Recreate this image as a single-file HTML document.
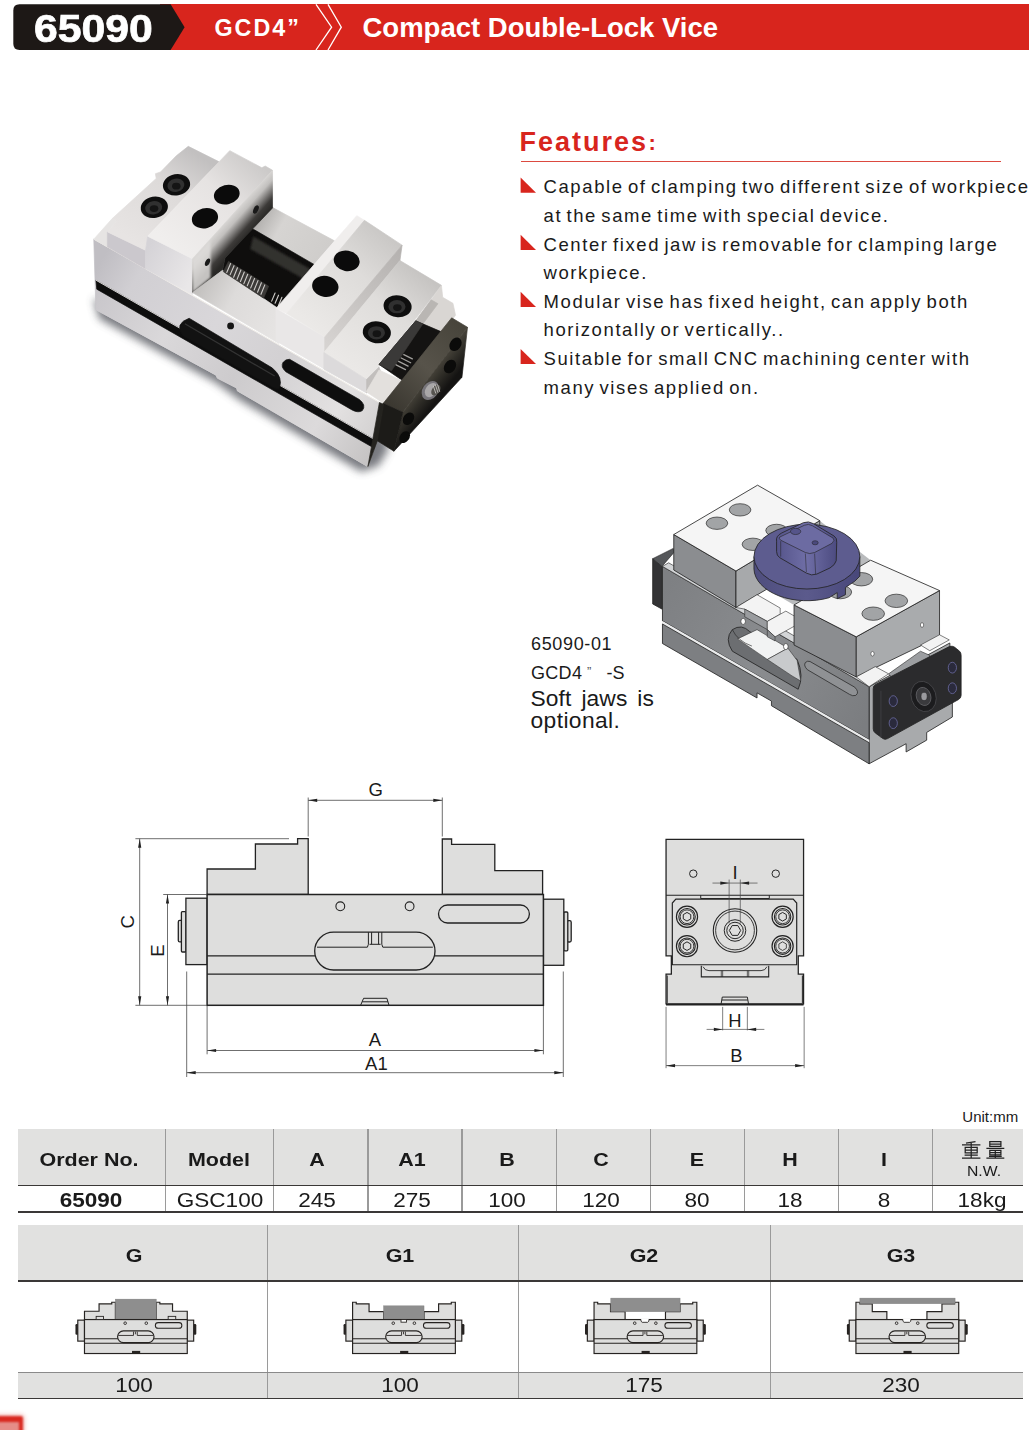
<!DOCTYPE html>
<html>
<head>
<meta charset="utf-8">
<title>65090 GCD4 Compact Double-Lock Vice</title>
<style>
html,body{margin:0;padding:0;background:#fff;}
body{width:1029px;height:1430px;position:relative;overflow:hidden;font-family:"Liberation Sans",sans-serif;color:#1a1a1a;}
.abs{position:absolute;}
svg{position:absolute;overflow:visible;}
.t{position:absolute;white-space:nowrap;line-height:1;}
/* header */
#hdr-red{left:160px;top:4px;width:869px;height:46px;background:#d8251d;}
#hdr-blk{left:0;top:0;}
.h1{color:#fff;font-weight:bold;}
/* features */
.feat{font-size:18.5px;letter-spacing:1.6px;word-spacing:-2.4px;color:#1a1a1a;}
/* tables */
.cell{position:absolute;text-align:center;white-space:nowrap;line-height:1;transform:scaleX(1.08);}
.th{font-weight:bold;font-size:19px;color:#1a1a1a;transform:scaleX(1.13);}
.td{font-size:19.6px;color:#1a1a1a;transform:scaleX(1.15);}
</style>
</head>
<body>

<!-- ===== HEADER ===== -->
<div class="abs" id="hdr-red"></div>
<svg id="hdr-blk" width="400" height="60" viewBox="0 0 400 60">
  <path d="M19.5 4.3 H170.6 L184.6 27.2 L170.6 50 H19.5 Q13.3 50 13.3 43.8 V10.5 Q13.3 4.3 19.5 4.3 Z" fill="#1d1816"/>
  <path d="M316 4.3 L331.6 27.2 L316 50" fill="none" stroke="#fff" stroke-width="1.3"/>
  <path d="M328 4.3 L341.3 27.2 L328 50" fill="none" stroke="#fff" stroke-width="1.3"/>
</svg>
<div class="t h1" id="h-num" style="left:33.5px;top:10px;font-size:38px;transform:scaleX(1.125);transform-origin:0 0;-webkit-text-stroke:0.7px #fff;">65090</div>
<div class="t h1" id="h-mod" style="left:214.5px;top:17px;font-size:23.3px;letter-spacing:2px;">GCD4”</div>
<div class="t h1" id="h-ttl" style="left:362.5px;top:13.5px;font-size:27.5px;">Compact Double-Lock Vice</div>

<!-- ===== FEATURES ===== -->
<div class="t" id="f-ttl" style="left:519.5px;top:128.5px;font-size:27px;font-weight:bold;color:#d8251d;letter-spacing:2px;">Features</div>
<div class="t" id="f-col" style="left:648.5px;top:131.5px;font-size:22px;font-weight:bold;color:#d8251d;">:</div>
<div class="abs" style="left:520.5px;top:160.5px;width:480.5px;height:1.5px;background:#dc4a40;"></div>
<svg id="f-tri" style="left:0;top:0;" width="1029" height="420" viewBox="0 0 1029 420">
  <g fill="#d8251d">
    <path d="M520.6 177.6 V192.8 H536 Z"/>
    <path d="M520.6 234.7 V249.9 H536 Z"/>
    <path d="M520.6 291.8 V307.0 H536 Z"/>
    <path d="M520.6 348.9 V364.1 H536 Z"/>
  </g>
</svg>
<div class="t feat" id="fl1" style="left:543.5px;top:178.2px;">Capable of clamping two different size of workpiece</div>
<div class="t feat" id="fl2" style="left:543.5px;top:206.8px;">at the same time with special device.</div>
<div class="t feat" id="fl3" style="left:543.5px;top:235.5px;">Center fixed jaw is removable for clamping large</div>
<div class="t feat" id="fl4" style="left:543.5px;top:264.1px;">workpiece.</div>
<div class="t feat" id="fl5" style="left:543.5px;top:292.8px;">Modular vise has fixed height, can apply both</div>
<div class="t feat" id="fl6" style="left:543.5px;top:321.4px;">horizontally or vertically..</div>
<div class="t feat" id="fl7" style="left:543.5px;top:350.1px;">Suitable for small CNC machining center with</div>
<div class="t feat" id="fl8" style="left:543.5px;top:378.8px;">many vises applied on.</div>

<!-- ===== PHOTO ===== -->
<!--PHOTO_START-->
<svg id="photo" style="left:60px;top:110px;" width="440" height="390" viewBox="0 0 1029 912">
 <defs>
  <filter id="blur8" x="-20%" y="-20%" width="140%" height="140%"><feGaussianBlur stdDeviation="10"/></filter>
  <filter id="blur2" x="-20%" y="-20%" width="140%" height="140%"><feGaussianBlur stdDeviation="2"/></filter>
  <filter id="blur4" x="-30%" y="-30%" width="160%" height="160%"><feGaussianBlur stdDeviation="5"/></filter>
  <linearGradient id="gSide" gradientUnits="userSpaceOnUse" x1="80" y1="380" x2="747" y2="760">
   <stop offset="0" stop-color="#c0bec3"/><stop offset="0.12" stop-color="#d1cfd3"/><stop offset="0.4" stop-color="#d9d7da"/><stop offset="0.62" stop-color="#d3d1d3"/><stop offset="0.85" stop-color="#e3e1e1"/><stop offset="1" stop-color="#d2d0d0"/>
  </linearGradient>
  <linearGradient id="gSide2" gradientUnits="userSpaceOnUse" x1="80" y1="440" x2="730" y2="810">
   <stop offset="0" stop-color="#c9c7cb"/><stop offset="0.25" stop-color="#dad8da"/><stop offset="0.5" stop-color="#cdcbcd"/><stop offset="0.8" stop-color="#dcdadb"/><stop offset="1" stop-color="#c5c3c3"/>
  </linearGradient>
  <linearGradient id="gInner" gradientUnits="userSpaceOnUse" x1="400" y1="245" x2="446" y2="286">
   <stop offset="0" stop-color="#dad8d6"/><stop offset="0.28" stop-color="#c2c0be"/><stop offset="0.5" stop-color="#858381"/><stop offset="0.75" stop-color="#3d3b39"/><stop offset="1" stop-color="#292826"/>
  </linearGradient>
  <linearGradient id="gBack" gradientUnits="userSpaceOnUse" x1="470" y1="250" x2="620" y2="335">
   <stop offset="0" stop-color="#b3b1af"/><stop offset="0.3" stop-color="#d6d4d2"/><stop offset="1" stop-color="#cfcdcb"/>
  </linearGradient>
  <linearGradient id="gFloor" gradientUnits="userSpaceOnUse" x1="330" y1="400" x2="515" y2="500">
   <stop offset="0" stop-color="#c2c0be"/><stop offset="0.4" stop-color="#dddbda"/><stop offset="1" stop-color="#e6e4e3"/>
  </linearGradient>
  <linearGradient id="gPlateTop" gradientUnits="userSpaceOnUse" x1="760" y1="690" x2="940" y2="500">
   <stop offset="0" stop-color="#39362f"/><stop offset="0.5" stop-color="#57534a"/><stop offset="1" stop-color="#47443b"/>
  </linearGradient>
  <linearGradient id="gHiFront" gradientUnits="userSpaceOnUse" x1="200" y1="330" x2="310" y2="390">
   <stop offset="0" stop-color="#d5d3d7"/><stop offset="1" stop-color="#e9e7e8"/>
  </linearGradient>
 <linearGradient id="gPlateFace" gradientUnits="userSpaceOnUse" x1="870" y1="600" x2="915" y2="636">
   <stop offset="0" stop-color="#4e4a40"/><stop offset="0.5" stop-color="#302e28"/><stop offset="1" stop-color="#141312"/>
  </linearGradient>
  <linearGradient id="gLowTop" gradientUnits="userSpaceOnUse" x1="160" y1="300" x2="300" y2="90">
   <stop offset="0" stop-color="#e7e4e3"/><stop offset="0.6" stop-color="#dddad9"/><stop offset="1" stop-color="#c2c0c0"/>
  </linearGradient>
  <linearGradient id="gHiTop" gradientUnits="userSpaceOnUse" x1="260" y1="320" x2="450" y2="110">
   <stop offset="0" stop-color="#f0eeed"/><stop offset="0.6" stop-color="#e6e3e2"/><stop offset="1" stop-color="#cccac9"/>
  </linearGradient>
  <linearGradient id="gRTop" gradientUnits="userSpaceOnUse" x1="575" y1="495" x2="755" y2="285">
   <stop offset="0" stop-color="#ebe9e7"/><stop offset="0.6" stop-color="#dedcda"/><stop offset="1" stop-color="#cac8c6"/>
  </linearGradient>
  <linearGradient id="gRLowTop" gradientUnits="userSpaceOnUse" x1="665" y1="600" x2="845" y2="380">
   <stop offset="0" stop-color="#ebe9e7"/><stop offset="0.6" stop-color="#dfdddb"/><stop offset="1" stop-color="#c6c4c2"/>
  </linearGradient>
  <linearGradient id="gStepFace" gradientUnits="userSpaceOnUse" x1="620" y1="545" x2="800" y2="335">
   <stop offset="0" stop-color="#d6d3d1"/><stop offset="1" stop-color="#b5b2b0"/>
  </linearGradient>
 </defs>
 <!-- shadow -->
 <path d="M78 440 L92 488 L365 638 L420 678 L705 846 L745 832 L770 790 L720 700 Z" fill="#4c4d55" opacity="0.75" filter="url(#blur8)"/>
 <!-- long side face -->
 <path d="M79 302 L747 684 L720 834 L415 657 L413 650 L368 627 L365 620 L84 467 Z" fill="url(#gSide)" stroke="url(#gSide)" stroke-width="1.6" stroke-linejoin="round"/>
 <path d="M86 418 L735 790 L720 834 L415 657 L413 650 L368 627 L365 620 L84 467 Z" fill="url(#gSide2)" stroke="url(#gSide2)" stroke-width="1.6" stroke-linejoin="round"/>
 <path d="M79 302 L747 684" stroke="#f4f1ea" stroke-width="2" fill="none"/>
 <!-- groove -->
 <path d="M84 398 L738 772 L735 791 L86 419 Z" fill="#0d0d0d" stroke="#0d0d0d" stroke-width="1.6" stroke-linejoin="round"/>
 <path d="M84 398 L738 772" stroke="#f2f0ee" stroke-width="2" fill="none"/>
 <!-- big slot -->
 <path d="M302 487 L496 603 Q524 626 512 652 L500 650 L288 528 Q266 500 302 487 Z" fill="#121212" stroke="#121212" stroke-width="1.6" stroke-linejoin="round"/>
 <path d="M292 500 L502 622" stroke="#333" stroke-width="3" fill="none"/>
 <circle cx="399" cy="505" r="8" fill="#151515"/>
 <!-- second slot -->
 <path d="M537 583 L700 677 Q717 690 707 703 Q698 709 684 702 L528 612 Q515 600 522 590 Q528 582 537 583 Z" fill="#0e0e0e" stroke="#0e0e0e" stroke-width="1.6" stroke-linejoin="round"/>
 <!-- body top strip at left end -->
 <path d="M79 302 L122 254 L132 260 L111 285 L111 320 Z" fill="#e6e4e3" stroke="#e6e4e3" stroke-width="1.6" stroke-linejoin="round"/>
 <!-- lower step front face -->
 <path d="M111 285 L200 328 L200 371 L111 320 Z" fill="#cbc8cd" stroke="#cbc8cd" stroke-width="1.6" stroke-linejoin="round"/>
 <!-- lower step top -->
 <path d="M111 285 L132 260 L122 254 L225 160 L223 149 L235 145 L272 107 L300 85 L372 121 L205 295 L200 328 Z" fill="url(#gLowTop)" stroke="url(#gLowTop)" stroke-width="1.6" stroke-linejoin="round"/>
 <!-- higher step front face -->
 <path d="M205 295 L310 348 L310 432 L200 371 L200 328 Z" fill="url(#gHiFront)" stroke="url(#gHiFront)" stroke-width="1.6" stroke-linejoin="round"/>
 <!-- higher step top -->
 <path d="M205 295 L397 95 L472 135 L480 131 L497 141 L310 348 Z" fill="url(#gHiTop)" stroke="url(#gHiTop)" stroke-width="1.6" stroke-linejoin="round"/>
 <!-- back wall -->
 <path d="M492 226 L497 228 L642 306 L594 361 L449 277 Z" fill="url(#gBack)" stroke="url(#gBack)" stroke-width="1.6" stroke-linejoin="round"/>
 <!-- cavity -->
 <path d="M449 277 L594 361 L510 464 L380 375 L386 346 Z" fill="#0f0e0d" stroke="#0f0e0d" stroke-width="1.6" stroke-linejoin="round"/>
 <path d="M452 296 L585 372 L570 395 L445 325 Z" fill="#33312f" filter="url(#blur2)"/>
 <!-- inner jaw face -->
 <path d="M310 348 L497 141 L497 229 L386 346 L380 375 L310 427 Z" fill="url(#gInner)" stroke="url(#gInner)" stroke-width="1.6" stroke-linejoin="round"/>
 <path d="M310 350 L352 304 L352 392 L310 427 Z" fill="#dedcda" opacity="0.85" filter="url(#blur2)"/>
 <!-- front wall top between jaws -->
 <path d="M310 427 L380 375 L510 464 L512 546 Z" fill="url(#gFloor)" stroke="url(#gFloor)" stroke-width="1.6" stroke-linejoin="round"/>
 <!-- screw -->
 <path d="M394 354 L488 412 L476 440 L382 378 Z" fill="#3c3a38" stroke="#3c3a38" stroke-width="1.6" stroke-linejoin="round"/>
 <g stroke="#cfcdca" stroke-width="2.6" fill="none" stroke-linecap="round">
  <path d="M399 359 l-9 21 M407 364 l-9 21 M415 369 l-9 22 M423 374 l-9 22 M431 379 l-9 22 M439 384 l-9 22 M447 389 l-9 22 M455 394 l-9 22 M463 399 l-9 22 M471 404 l-9 22 M479 409 l-9 22"/>
  <path d="M503 428 l-8 19 M511 433 l-8 19 M519 438 l-8 19"/>
 </g>
 <!-- right jaw higher step front face -->
 <path d="M505 464 L619 531 L619 606 L505 540 Z" fill="#e9e7e7" stroke="#e9e7e7" stroke-width="1.6" stroke-linejoin="round"/>
 <!-- right jaw lip + top -->
 <path d="M505 464 L694 247 L712 258 L530 476 Z" fill="#f0eeed" stroke="#f0eeed" stroke-width="1.6" stroke-linejoin="round"/>
 <path d="M530 476 L712 258 L800 316 L619 531 Z" fill="url(#gRTop)" stroke="url(#gRTop)" stroke-width="1.6" stroke-linejoin="round"/>
 <!-- step face right jaw -->
 <path d="M619 531 L800 316 L795 352 L619 566 Z" fill="url(#gStepFace)" stroke="url(#gStepFace)" stroke-width="1.6" stroke-linejoin="round"/>
 <!-- lower step top right jaw -->
 <path d="M617 567 L795 352 L892 410 L745 601 L717 630 Z" fill="url(#gRLowTop)" stroke="url(#gRLowTop)" stroke-width="1.6" stroke-linejoin="round"/>
 <path d="M617 567 L717 630 L717 662 L617 606 Z" fill="#dcdadb" stroke="#dcdadb" stroke-width="1.6" stroke-linejoin="round"/>
 <!-- lower step right end face -->
 <path d="M717 630 L746 601 L750 612 L717 662 Z" fill="#c2bfbd" stroke="#c2bfbd" stroke-width="1.6" stroke-linejoin="round"/>
 <!-- back rail -->
 <path d="M832 493 L868 444 L892 410 L895 438 L919 452 L925 480 L892 524 Z" fill="#d9d6d3" stroke="#d9d6d3" stroke-width="1.6" stroke-linejoin="round"/>
 <path d="M832 493 L868 444 L884 453 L848 501 Z" fill="#b9b6b3" stroke="#b9b6b3" stroke-width="1.6" stroke-linejoin="round"/>
 <!-- gap dark with screw -->
 <path d="M746 595 L832 493 L895 520 L806 636 Z" fill="#141312" stroke="#141312" stroke-width="1.6" stroke-linejoin="round"/>
 <path d="M746 595 L832 493 L848 501 L775 610 Z" fill="#3a3938" stroke="#3a3938" stroke-width="1.6" stroke-linejoin="round"/>
 <g stroke="#a3a19e" stroke-width="3" fill="none" stroke-linecap="round"><path d="M786 596 l22 11 M792 588 l22 11 M798 580 l22 11 M804 572 l20 10"/></g>
 <!-- front rail top between jaw & plate -->
 <path d="M716 659 L746 608 L806 636 L766 692 Z" fill="#e3e0dd" stroke="#e3e0dd" stroke-width="1.6" stroke-linejoin="round"/>
 <!-- end plate -->
 <path d="M756 686 L916 486 L953 508 L802 707 Z" fill="url(#gPlateTop)" stroke="url(#gPlateTop)" stroke-width="1.6" stroke-linejoin="round"/>
 <path d="M802 707 L953 508 L940 625 L781 798 Z" fill="url(#gPlateFace)" stroke="url(#gPlateFace)" stroke-width="1.6" stroke-linejoin="round"/>
 <path d="M756 686 L802 707 L781 798 L741 773 Z" fill="#1c1b18" stroke="#1c1b18" stroke-width="1.6" stroke-linejoin="round"/>
 <path d="M747 684 L757 688 L742 774 L720 834 Z" fill="#24231f" stroke="#24231f" stroke-width="1.6" stroke-linejoin="round"/>
 <!-- plate details -->
 <ellipse cx="925" cy="548" rx="13" ry="17" transform="rotate(35 925 548)" fill="#0b0b0a"/>
 <ellipse cx="912" cy="600" rx="13" ry="17" transform="rotate(35 912 600)" fill="#0b0b0a"/>
 <ellipse cx="815" cy="722" rx="12" ry="16" transform="rotate(35 815 722)" fill="#0b0b0a"/>
 <ellipse cx="806" cy="765" rx="11" ry="15" transform="rotate(35 806 765)" fill="#0b0b0a"/>
 <ellipse cx="866" cy="656" rx="18" ry="24" transform="rotate(35 866 656)" fill="#77757a"/>
 <ellipse cx="868" cy="655" rx="13" ry="18" transform="rotate(35 868 655)" fill="#a9a7a8"/>
 <ellipse cx="879" cy="655" rx="9" ry="14" transform="rotate(35 879 655)" fill="#56544f"/>
 <g stroke="#c9c7c4" stroke-width="2" fill="none"><path d="M873 645 l6 18 M878 643 l6 18 M883 642 l5 17"/></g>
 <!-- holes on left jaw -->
 <ellipse cx="390" cy="198" rx="30.5" ry="22.5" transform="rotate(-14 390 198)" fill="#0b0b0b"/>
 <ellipse cx="339" cy="253" rx="31" ry="23.5" transform="rotate(-14 339 253)" fill="#0b0b0b"/>
 <ellipse cx="272.5" cy="175" rx="32" ry="25" transform="rotate(-10 272 175)" fill="#0e0e0e"/>
 <ellipse cx="271" cy="176" rx="20" ry="15.5" transform="rotate(-10 271 176)" fill="#303030"/>
 <ellipse cx="272" cy="178" rx="10" ry="8" fill="#141414"/>
 <ellipse cx="220.5" cy="227.5" rx="32" ry="25" transform="rotate(-10 220 227)" fill="#0e0e0e"/>
 <ellipse cx="219" cy="228.5" rx="20" ry="15.5" transform="rotate(-10 219 228)" fill="#303030"/>
 <ellipse cx="220" cy="230.5" rx="10" ry="8" fill="#141414"/>
 <ellipse cx="458.5" cy="232.5" rx="5.5" ry="10.5" transform="rotate(25 458 232)" fill="#1a1a1a"/>
 <ellipse cx="345" cy="356" rx="5" ry="9.5" transform="rotate(25 345 356)" fill="#1a1a1a"/>
 <!-- holes on right jaw -->
 <ellipse cx="670.5" cy="352.5" rx="30.5" ry="24" transform="rotate(10 670 352)" fill="#0b0b0b"/>
 <ellipse cx="620.5" cy="412.5" rx="31" ry="24.5" transform="rotate(10 620 412)" fill="#0b0b0b"/>
 <ellipse cx="789.5" cy="459" rx="33" ry="25.5" transform="rotate(8 789 459)" fill="#0e0e0e"/>
 <ellipse cx="788" cy="460" rx="20" ry="15.5" fill="#303030"/>
 <ellipse cx="789" cy="462" rx="10" ry="8" fill="#141414"/>
 <ellipse cx="741" cy="520" rx="33" ry="25.5" transform="rotate(8 741 520)" fill="#0e0e0e"/>
 <ellipse cx="740" cy="521" rx="20" ry="15.5" fill="#303030"/>
 <ellipse cx="741" cy="523" rx="10" ry="8" fill="#141414"/>
</svg>

<!--PHOTO_END-->

<!-- ===== CAD RENDER ===== -->
<!--CAD_START-->
<svg id="cad" style="left:500px;top:460px;" width="529" height="330" viewBox="0 0 1029 642">
 <defs>
  <linearGradient id="cPurp" x1="0" y1="0" x2="1" y2="0"><stop offset="0" stop-color="#4f4e7e"/><stop offset="0.5" stop-color="#5b5a8c"/><stop offset="1" stop-color="#48477a"/></linearGradient>
  <linearGradient id="cKnob" x1="0" y1="0" x2="1" y2="0"><stop offset="0" stop-color="#55548a"/><stop offset="0.5" stop-color="#6f6ea6"/><stop offset="1" stop-color="#4c4b80"/></linearGradient>
  <linearGradient id="cFace" gradientUnits="userSpaceOnUse" x1="316" y1="260" x2="718" y2="500"><stop offset="0" stop-color="#7e8083"/><stop offset="0.5" stop-color="#8a8c8f"/><stop offset="1" stop-color="#7b7d80"/></linearGradient>
 </defs>
 <g stroke="#222" stroke-width="1.6" stroke-linejoin="round">
  <!-- far rail/back wall hints -->
  <path d="M459 216 L622 118 L721 195 L572 282 Z" fill="#b9bbbd" stroke="none"/>
  <!-- body right end face -->
  <path d="M718 441 L875 356 L880 470 L880 500 L830 530 L830 545 L790 568 L790 552 L718 591 Z" fill="#a8aaac"/>
  <!-- body upper side face -->
  <path d="M316 207 L718 441 L718 544 L316 313 Z" fill="url(#cFace)"/>
  <!-- top strip of front wall -->
  <path d="M316 207 L328 200 L730 434 L718 441 Z" fill="#d3d5d7" stroke-width="1.2"/>
  <!-- groove light line -->
  <path d="M316 313 L718 544 L718 550 L316 319 Z" fill="#e9eaeb" stroke="none"/>
  <!-- base -->
  <path d="M316 319 L718 550 L718 591 L528 478 L528 469 L500 453 L500 463 L316 357 Z" fill="#7d7f82"/>
  <!-- big slot opening -->
  <path d="M452 330 Q470 318 486 334 L578 388 Q592 420 580 446 L556 432 L452 372 Q436 348 452 330 Z" fill="#6c6e71"/>
  <path d="M462 348 L500 330 L560 366 L520 388 Z" fill="#f2f3f3" stroke-width="1"/>
  <path d="M520 388 L560 366 L578 390 L585 430 L568 420 Z" fill="#c8cacc" stroke-width="1"/>
  <path d="M452 330 Q462 352 490 362" fill="none" stroke-width="1.2"/>
  <!-- right slot outline -->
  <path d="M603 392 L690 442 Q700 452 692 458 Q686 460 680 456 L598 408 Q590 400 594 394 Q598 390 603 392 Z" fill="#8f9194" stroke-width="1.4"/>
  <!-- small holes on side -->
  <ellipse cx="473" cy="314" rx="4.5" ry="6" fill="#fff" stroke-width="1.2"/>
  <ellipse cx="556" cy="363" rx="4.5" ry="6" fill="#fff" stroke-width="1.2"/>
  <!-- dark bracket left -->
  <path d="M297 192 L315 207 L315 290 L297 280 Z" fill="#333335"/>
  <path d="M297 192 L337 172 L340 178 L315 207 Z" fill="#55575a" stroke-width="1.2"/>
  <!-- left jaw block -->
  <path d="M338 145 L459 216 L459 287 L338 214 Z" fill="#8b8d90"/>
  <path d="M459 216 L622 118 L622 190 L459 287 Z" fill="#a7a9ab"/>
  <path d="M338 145 L501 49 L622 118 L459 216 Z" fill="#f5f5f5"/>
  <ellipse cx="467" cy="97" rx="21" ry="12" fill="#a2a4a6" stroke-width="1.3"/>
  <ellipse cx="422" cy="123" rx="21" ry="12" fill="#a2a4a6" stroke-width="1.3"/>
  <ellipse cx="538" cy="137" rx="21" ry="12" fill="#a2a4a6" stroke-width="1.3"/>
  <ellipse cx="492" cy="164" rx="21" ry="12" fill="#a2a4a6" stroke-width="1.3"/>
  <!-- center white blocks between jaws -->
  <path d="M459 287 L500 262 L545 288 L545 300 L520 314 L476 290 Z" fill="#f3f3f3" stroke-width="1.1"/>
  <path d="M476 290 L520 314 L520 330 L476 305 Z" fill="#9a9c9f" stroke-width="1.1"/>
  <path d="M520 314 L556 294 L575 305 L575 322 L535 344 L520 330 Z" fill="#f3f3f3" stroke-width="1.1"/>
  <path d="M520 330 L535 344 L535 352 L520 344 Z" fill="#8a8c8f" stroke-width="1"/>
  <!-- right jaw block -->
  <path d="M572 282 L693 344 L693 422 L572 360 Z" fill="#8b8d90"/>
  <path d="M693 344 L855 254 L855 344 L693 422 Z" fill="#a9abad"/>
  <path d="M572 282 L721 195 L855 254 L693 344 Z" fill="#f5f5f5"/>
  <ellipse cx="771" cy="274" rx="22" ry="13" fill="#a2a4a6" stroke-width="1.3"/>
  <ellipse cx="726" cy="299" rx="22" ry="13" fill="#a2a4a6" stroke-width="1.3"/>
  <ellipse cx="703" cy="232" rx="22" ry="13" fill="#a2a4a6" stroke-width="1.3"/>
  <ellipse cx="662" cy="257" rx="22" ry="13" fill="#a2a4a6" stroke-width="1.3"/>
  <ellipse cx="724.6" cy="377" rx="3.2" ry="4.5" fill="#fff" stroke-width="1"/>
  <ellipse cx="821" cy="321" rx="3.2" ry="4.5" fill="#fff" stroke-width="1"/>
  <!-- white blocks near plate -->
  <path d="M818 360 L855 340 L874 350 L836 371 Z" fill="#f3f3f3" stroke-width="1.1"/>
  <path d="M693 422 L730 402 L756 416 L718 441 Z" fill="#f3f3f3" stroke-width="1.1"/>
  <path d="M756 416 L818 372 L836 380 L836 395 L770 432 Z" fill="#9c9ea1" stroke-width="1.1"/>
  <!-- purple disc -->
  <path d="M494 188 L494 212 A103 63 0 0 0 640 268 L656 258 L656 270 L672 262 L672 248 L690 236 L700 226 L700 188 Z" fill="url(#cPurp)"/>
  <ellipse cx="597" cy="188" rx="103" ry="63" fill="#5d5c8f"/>
  <!-- knob -->
  <path d="M538 158 Q536 148 548 142 L590 122 Q600 118 610 124 L650 148 Q656 152 655 160 L654 196 Q652 204 642 210 L616 222 Q606 226 596 220 L544 190 Q538 186 538 178 Z" fill="url(#cKnob)"/>
  <path d="M544 150 L592 127 Q600 123 608 128 L648 152 Q652 156 646 162 L612 180 Q602 184 594 180 L546 156 Q542 153 544 150 Z" fill="#6c6ba2" stroke-width="1.2"/>
  <path d="M594 182 L596 218 M612 182 L614 222 M546 158 L546 188" fill="none" stroke-width="1"/>
  <ellipse cx="575" cy="139" rx="10" ry="6" fill="#55548a" stroke-width="1.1"/>
  <ellipse cx="613" cy="161" rx="6" ry="4" fill="#4a497c" stroke-width="1"/>
  <!-- black plate -->
  <path d="M730 437 L874 363 Q880 361 884 364 L894 372 Q897 375 897 380 L897 458 Q897 463 892 466 L754 542 Q749 545 745 542 L730 531 Q726 528 726 523 L726 445 Q726 439 730 437 Z" fill="#2b2b2d"/>
  <path d="M741 449 L741 540" fill="none" stroke="#4a4a4d" stroke-width="1.2"/>
  <ellipse cx="824" cy="460" rx="24" ry="30" transform="rotate(-18 824 460)" fill="#1c1c1e" stroke="#49494c" stroke-width="1.5"/>
  <ellipse cx="824" cy="460" rx="14" ry="18" transform="rotate(-18 824 460)" fill="#3a3a3d" stroke="#6a6a6e" stroke-width="1.3"/>
  <ellipse cx="825" cy="460" rx="6" ry="8" fill="#9a9a9e" stroke="#1c1c1e" stroke-width="1"/>
  <g stroke="#6a6aa0" stroke-width="1.6" fill="#2a2a3c">
   <ellipse cx="765" cy="469" rx="8" ry="10.5"/><ellipse cx="765" cy="512" rx="8" ry="10.5"/>
   <ellipse cx="880" cy="404" rx="8" ry="10.5"/><ellipse cx="880" cy="444" rx="8" ry="10.5"/>
  </g>
 </g>
</svg>

<div class="t" id="c1" style="left:531px;top:635.2px;font-size:18px;letter-spacing:0.65px;">65090-01</div>
<div class="t" id="c2" style="left:531px;top:664.2px;font-size:18px;letter-spacing:0.3px;">GCD4</div>
<div class="t" id="c2b" style="left:587px;top:665px;font-size:13px;color:#555;">”</div>
<div class="t" id="c2c" style="left:606.5px;top:664.2px;font-size:18px;">-S</div>
<div class="t" id="c3" style="left:530.5px;top:686.5px;font-size:22.8px;word-spacing:3.5px;letter-spacing:0.1px;">Soft jaws is</div>
<div class="t" id="c4" style="left:530.5px;top:708.7px;font-size:22.8px;letter-spacing:0.4px;">optional.</div>

<!--CAD_END-->

<!-- ===== DRAWINGS ===== -->
<svg id="front" style="left:0;top:770px;" width="640" height="330" viewBox="0 770 640 330">
 <g fill="#dededd" stroke="#222" stroke-width="1.3" stroke-linejoin="miter">
  <!-- side caps & knobs -->
  <rect x="178.3" y="920.4" width="4" height="21.5" rx="1.5"/>
  <rect x="181.4" y="911.6" width="4.6" height="40.4" rx="1"/>
  <rect x="185.9" y="898.2" width="21.2" height="66.4"/>
  <rect x="567.2" y="920.7" width="4" height="21.3" rx="1.5"/>
  <rect x="563.8" y="912" width="4" height="38.8" rx="1"/>
  <rect x="543.4" y="899.2" width="20.4" height="66.1"/>
  <!-- jaws -->
  <path d="M207.1 894.5 V869 H255.4 V844 H297.6 V838.7 H308.2 V894.5 Z"/>
  <path d="M442.3 894.5 V839 H451.6 V844.3 H494.8 V870.6 H542.6 V894.5 Z"/>
  <!-- body -->
  <rect x="207.1" y="894.5" width="336.3" height="110.8" stroke-width="1.5"/>
  <path d="M207.1 974.1 H543.4" fill="none"/>
  <path d="M207.1 955.8 H318 M432 955.8 H543.4" fill="none"/>
  <circle cx="340.3" cy="906.3" r="4.4" stroke-width="1.1"/>
  <circle cx="409.6" cy="906.3" r="4.4" stroke-width="1.1"/>
  <rect x="438.5" y="905" width="90.9" height="18" rx="9"/>
  <rect x="314.7" y="932.2" width="120.3" height="37.8" rx="18.9"/>
  <g fill="none" stroke-width="1">
   <path d="M317 947.2 H367.4 L368.4 944.3 V932.2 M371.6 932.2 V944.3 M369.5 944.3 H380.6 M378.6 932.2 V944.3 M381.8 932.2 V944.3 L382.8 947.2 H432.8"/>
   <path d="M360.6 1005.3 L363.6 998.3 H386.9 L389 1005.3 M362.2 1001.8 H388"/>
  </g>
 </g>
 <g fill="none" stroke="#4a4a4a" stroke-width="0.8">
  <!-- G -->
  <path d="M308.2 797.5 V836.5 M442.3 797.5 V836.5 M308.2 800.3 H442.3"/>
  <!-- C -->
  <path d="M135.4 838.7 H289 M135.4 1005.3 H207 M139.7 838.7 V1005.3"/>
  <!-- E -->
  <path d="M163.2 894.5 H207 M167.5 894.5 V1005.3"/>
  <!-- A -->
  <path d="M207.1 1006 V1054.3 M543.4 1006 V1054.3 M207.1 1050.5 H543.4"/>
  <!-- A1 -->
  <path d="M186.7 971.5 V1077 M563.3 971.5 V1077 M186.7 1072.7 H563.3"/>
 </g>
 <g fill="#222" stroke="none">
  <path d="M308.2 800.3 l9 -1.6 v3.2z M442.3 800.3 l-9 -1.6 v3.2z"/>
  <path d="M139.7 838.7 l-1.6 9 h3.2z M139.7 1005.3 l-1.6 -9 h3.2z"/>
  <path d="M167.5 894.5 l-1.6 9 h3.2z M167.5 1005.3 l-1.6 -9 h3.2z"/>
  <path d="M207.1 1050.5 l9 -1.6 v3.2z M543.4 1050.5 l-9 -1.6 v3.2z"/>
  <path d="M186.7 1072.7 l9 -1.6 v3.2z M563.3 1072.7 l-9 -1.6 v3.2z"/>
 </g>
 <g font-family="Liberation Sans, sans-serif" font-size="18.5" fill="#1a1a1a" text-anchor="middle">
  <text x="375.8" y="796.2">G</text>
  <text x="374.9" y="1045.5">A</text>
  <text x="376.4" y="1070.3">A1</text>
  <text transform="translate(134.4 921.7) rotate(-90)" x="0" y="0">C</text>
  <text transform="translate(164.2 950.7) rotate(-90)" x="0" y="0">E</text>
 </g>
</svg>
<svg id="side" style="left:640px;top:810px;" width="200" height="280" viewBox="0 0 1021 1429.4">
 <g fill="#dededd" stroke="#222" stroke-width="6" stroke-linejoin="miter">
  <!-- outer body -->
  <path d="M133 150 H835 V745 H808 V838 H835 V990 H133 V838 H160 V745 H133 Z" stroke-width="6.5"/>
  <path d="M133 993 H835" stroke-width="9"/>
  <path d="M139 845 V985 M829 845 V985" stroke-width="5" fill="none"/>
  <path d="M133 435 H835" fill="none" stroke-width="5.5"/>
  <path d="M310 435 V452 H660 V435" fill="none" stroke-width="5"/>
  <!-- end plate -->
  <path d="M165 790 V475 L183 455 H782 L800 475 V790 Z" stroke-width="6"/>
  <!-- small circles -->
  <circle cx="272" cy="325" r="19" stroke-width="5"/>
  <circle cx="693" cy="325" r="19" stroke-width="5"/>
  <circle cx="240" cy="545" r="54" stroke-width="6"/><circle cx="240" cy="545" r="42" stroke-width="5.5"/><circle cx="240" cy="545" r="35" stroke-width="4.5"/><polygon points="259.1,556.0 240.0,567.0 220.9,556.0 220.9,534.0 240.0,523.0 259.1,534.0" stroke-width="5"/>
<circle cx="240" cy="695" r="54" stroke-width="6"/><circle cx="240" cy="695" r="42" stroke-width="5.5"/><circle cx="240" cy="695" r="35" stroke-width="4.5"/><polygon points="259.1,706.0 240.0,717.0 220.9,706.0 220.9,684.0 240.0,673.0 259.1,684.0" stroke-width="5"/>
<circle cx="728" cy="545" r="54" stroke-width="6"/><circle cx="728" cy="545" r="42" stroke-width="5.5"/><circle cx="728" cy="545" r="35" stroke-width="4.5"/><polygon points="747.1,556.0 728.0,567.0 708.9,556.0 708.9,534.0 728.0,523.0 747.1,534.0" stroke-width="5"/>
<circle cx="728" cy="695" r="54" stroke-width="6"/><circle cx="728" cy="695" r="42" stroke-width="5.5"/><circle cx="728" cy="695" r="35" stroke-width="4.5"/><polygon points="747.1,706.0 728.0,717.0 708.9,706.0 708.9,684.0 728.0,673.0 747.1,684.0" stroke-width="4"/>

  <circle cx="485" cy="615" r="111" stroke-width="5.5"/>
  <circle cx="485" cy="615" r="99" stroke-width="4.5"/>
  <circle cx="485" cy="615" r="55" stroke-width="5"/>
  <circle cx="485" cy="615" r="42" stroke-width="5"/>
  <polygon points="514.0,615.0 499.5,640.1 470.5,640.1 456.0,615.0 470.5,589.9 499.5,589.9" stroke-width="5"/>
  <!-- lower details -->
  <path d="M313 795 V852 H657 V795" fill="none" stroke-width="5.5"/>
  <path d="M322 800 Q330 820 352 820 H618 Q640 820 648 800" fill="none" stroke-width="4.5"/>
  <path d="M415 820 V852 M422 820 V852 M548 820 V852 M555 820 V852" fill="none" stroke-width="3.5"/>
  <path d="M414 990 L420 955 H548 L554 990 M418 970 H550" fill="none" stroke-width="5"/>
 </g>
 <g fill="none" stroke="#4a4a4a" stroke-width="3.6">
  <path d="M455 355 V580 M512 355 V580 M370 373 H600"/>
  <path d="M422 1005 V1125 M548 1005 V1125 M340 1120 H635"/>
  <path d="M133 1005 V1318 M838 1005 V1318 M133 1305 H838"/>
 </g>
 <g fill="#222" stroke="none">
  <path d="M455 373 l-45 -8 v16z M512 373 l45 -8 v16z"/>
  <path d="M422 1120 l-45 -8 v16z M548 1120 l45 -8 v16z"/>
  <path d="M133 1305 l46 -8 v16z M838 1305 l-46 -8 v16z"/>
 </g>
 <g font-family="Liberation Sans, sans-serif" font-size="94" fill="#1a1a1a" text-anchor="middle">
  <text x="485" y="350">I</text>
  <text x="485" y="1108">H</text>
  <text x="492" y="1285">B</text>
 </g>
</svg>

<!-- ===== TABLES ===== -->
<div class="abs" style="left:17.5px;top:1128.8px;width:1005.0px;height:56.5px;background:#e1e1e0;"></div>
<div class="abs" style="left:164.8px;top:1128.8px;width:1.2px;height:83.5px;background:#9a9a9a;"></div>
<div class="abs" style="left:272.79999999999995px;top:1128.8px;width:1.2px;height:83.5px;background:#9a9a9a;"></div>
<div class="abs" style="left:367.4px;top:1128.8px;width:1.2px;height:83.5px;background:#9a9a9a;"></div>
<div class="abs" style="left:461.4px;top:1128.8px;width:1.2px;height:83.5px;background:#9a9a9a;"></div>
<div class="abs" style="left:555.8px;top:1128.8px;width:1.2px;height:83.5px;background:#9a9a9a;"></div>
<div class="abs" style="left:649.6px;top:1128.8px;width:1.2px;height:83.5px;background:#9a9a9a;"></div>
<div class="abs" style="left:743.9px;top:1128.8px;width:1.2px;height:83.5px;background:#9a9a9a;"></div>
<div class="abs" style="left:838.1999999999999px;top:1128.8px;width:1.2px;height:83.5px;background:#9a9a9a;"></div>
<div class="abs" style="left:932.1px;top:1128.8px;width:1.2px;height:83.5px;background:#9a9a9a;"></div>
<div class="abs" style="left:17.5px;top:1184.6px;width:1005.0px;height:1.5px;background:#3a3837;"></div>
<div class="abs" style="left:17.5px;top:1211.3px;width:1005.0px;height:1.6px;background:#3a3837;"></div>
<div class="cell th" id="th0" style="left:29.450000000000003px;width:120px;top:1149.5px;">Order No.</div>
<div class="cell th" id="th1" style="left:159.39999999999998px;width:120px;top:1149.5px;">Model</div>
<div class="cell th" id="th2" style="left:257.2px;width:120px;top:1149.5px;">A</div>
<div class="cell th" id="th3" style="left:351.5px;width:120px;top:1149.5px;">A1</div>
<div class="cell th" id="th4" style="left:447.2px;width:120px;top:1149.5px;">B</div>
<div class="cell th" id="th5" style="left:541.3px;width:120px;top:1149.5px;">C</div>
<div class="cell th" id="th6" style="left:637.35px;width:120px;top:1149.5px;">E</div>
<div class="cell th" id="th7" style="left:729.65px;width:120px;top:1149.5px;">H</div>
<div class="cell th" id="th8" style="left:823.75px;width:120px;top:1149.5px;">I</div>
<div class="cell td" id="td0" style="left:31.450000000000003px;width:120px;top:1191px; font-weight:bold;">65090</div>
<div class="cell td" id="td1" style="left:159.89999999999998px;width:120px;top:1191px;">GSC100</div>
<div class="cell td" id="td2" style="left:257.2px;width:120px;top:1191px;">245</div>
<div class="cell td" id="td3" style="left:351.5px;width:120px;top:1191px;">275</div>
<div class="cell td" id="td4" style="left:447.2px;width:120px;top:1191px;">100</div>
<div class="cell td" id="td5" style="left:541.3px;width:120px;top:1191px;">120</div>
<div class="cell td" id="td6" style="left:637.35px;width:120px;top:1191px;">80</div>
<div class="cell td" id="td7" style="left:729.65px;width:120px;top:1191px;">18</div>
<div class="cell td" id="td8" style="left:823.75px;width:120px;top:1191px;">8</div>
<div class="cell td" id="td9" style="left:921.7px;width:120px;top:1191px;">18kg</div>
<div class="cell" id="nw" style="left:923.5px;width:120px;top:1162.7px;font-size:15px;transform:scaleX(1.05);">N.W.</div>
<div class="t" id="unit" style="left:962.3px;top:1109.3px;font-size:15px;">Unit:mm</div>
<svg id="cjk" style="left:961.5px;top:1140.5px;" width="43" height="18" viewBox="0 0 43 18">
 <g fill="none" stroke="#222" stroke-width="1.25">
  <path d="M13.5 0.6 L4 2.2 M0 3.9 H18.4 M3.2 6.3 H15.2 V11.8 H3.2 Z M3.2 9 H15.2 M9.2 1.2 V17 M2.6 14.2 H15.8 M0 17.1 H18.4"/>
  <path d="M27.8 0.7 H38.9 V5.4 H27.8 Z M27.8 3 H38.9 M24.4 7.3 H42.3 M27.8 9.4 H38.9 V13.8 H27.8 Z M27.8 11.6 H38.9 M33.3 9.4 V17 M27 15.3 H39.7 M24.4 17.2 H42.3"/>
 </g>
</svg>
<div class="abs" style="left:17.5px;top:1225px;width:1005.0px;height:56px;background:#e1e1e0;"></div>
<div class="abs" style="left:17.5px;top:1372.7px;width:1005.0px;height:26px;background:#e1e1e0;"></div>
<div class="abs" style="left:267.09999999999997px;top:1225px;width:1.2px;height:173.5px;background:#9a9a9a;"></div>
<div class="abs" style="left:517.9px;top:1225px;width:1.2px;height:173.5px;background:#9a9a9a;"></div>
<div class="abs" style="left:770.1px;top:1225px;width:1.2px;height:173.5px;background:#9a9a9a;"></div>
<div class="abs" style="left:17.5px;top:1280.2px;width:1005.0px;height:1.6px;background:#3a3837;"></div>
<div class="abs" style="left:17.5px;top:1372.2px;width:1005.0px;height:1px;background:#8a8a8a;"></div>
<div class="abs" style="left:17.5px;top:1397.6px;width:1005.0px;height:1.6px;background:#3a3837;"></div>
<div class="cell th" id="g0" style="left:73.80000000000001px;width:120px;top:1246.3px;">G</div>
<div class="cell td" id="gv0" style="left:73.80000000000001px;width:120px;top:1376.3px;">100</div>
<div class="cell th" id="g1" style="left:339.8px;width:120px;top:1246.3px;">G1</div>
<div class="cell td" id="gv1" style="left:339.8px;width:120px;top:1376.3px;">100</div>
<div class="cell th" id="g2" style="left:584px;width:120px;top:1246.3px;">G2</div>
<div class="cell td" id="gv2" style="left:584px;width:120px;top:1376.3px;">175</div>
<div class="cell th" id="g3" style="left:841px;width:120px;top:1246.3px;">G3</div>
<div class="cell td" id="gv3" style="left:841px;width:120px;top:1376.3px;">230</div>
<svg id="tb0" style="left:60px;top:1285px;" width="150" height="85" viewBox="0 0 1029 583">
<g fill="#dededd" stroke="#262321" stroke-width="8" stroke-linejoin="miter">
<rect x="106" y="268" width="20" height="74" rx="8" fill="#262321" stroke="none"/>
<rect x="915" y="268" width="20" height="74" rx="8" fill="#262321" stroke="none"/>
<rect x="122" y="241" width="46" height="144"/>
<rect x="873" y="241" width="44" height="144"/>
<path d="M168 237 V180 H268 V130 H355 V118 H380 V237 Z"/>
<path d="M660 237 V118 H685 V130 H772 V180 H873 V237 Z"/>
<rect x="380" y="97" width="280" height="140" fill="#8e8e8e" stroke="#7a7a7a" stroke-width="3"/>
<rect x="168" y="237" width="705" height="233"/>
<path d="M168 368 H873 M168 400 H873" fill="none" stroke-width="7"/>
<rect x="248" y="215" width="50" height="22" stroke-width="6"/><rect x="742" y="215" width="52" height="22" stroke-width="6"/>
<circle cx="447" cy="262" r="9" stroke-width="6"/><circle cx="592" cy="262" r="9" stroke-width="6"/>
<rect x="654" y="258" width="182" height="39" rx="19.5" stroke-width="7"/>
<rect x="395" y="315" width="250" height="80" rx="40" stroke-width="8"/>
<path d="M400 346 H504 V320 M530 320 V346 H640 M517 320 V338" fill="none" stroke-width="6"/>
<rect x="494" y="452" width="56" height="16" fill="#262321" stroke="none"/>
</g></svg>
<svg id="tb1" style="left:330px;top:1285px;" width="150" height="85" viewBox="0 0 1029 583">
<g fill="#dededd" stroke="#262321" stroke-width="8" stroke-linejoin="miter">
<rect x="93" y="268" width="20" height="74" rx="8" fill="#262321" stroke="none"/>
<rect x="902" y="268" width="20" height="74" rx="8" fill="#262321" stroke="none"/>
<rect x="109" y="241" width="46" height="144"/>
<rect x="860" y="241" width="44" height="144"/>
<path d="M155 237 V118 H180 V130 H268 V183 H368 V237 Z"/>
<path d="M645 237 V183 H745 V130 H832 V118 H860 V237 Z"/>
<rect x="368" y="143" width="277" height="94" fill="#8e8e8e" stroke="#7a7a7a" stroke-width="3"/>
<rect x="155" y="237" width="705" height="233"/>
<path d="M155 368 H860 M155 400 H860" fill="none" stroke-width="7"/>
<rect x="487" y="237" width="38" height="18" fill="#fff" stroke-width="6"/>
<circle cx="434" cy="262" r="9" stroke-width="6"/><circle cx="579" cy="262" r="9" stroke-width="6"/>
<rect x="641" y="258" width="182" height="39" rx="19.5" stroke-width="7"/>
<rect x="382" y="315" width="250" height="80" rx="40" stroke-width="8"/>
<path d="M387 346 H491 V320 M517 320 V346 H627 M504 320 V338" fill="none" stroke-width="6"/>
<rect x="481" y="452" width="56" height="16" fill="#262321" stroke="none"/>
</g></svg>
<svg id="tb2" style="left:570px;top:1285px;" width="150" height="85" viewBox="0 0 1029 583">
<g fill="#dededd" stroke="#262321" stroke-width="8" stroke-linejoin="miter">
<rect x="103" y="268" width="20" height="74" rx="8" fill="#262321" stroke="none"/>
<rect x="912" y="268" width="20" height="74" rx="8" fill="#262321" stroke="none"/>
<rect x="119" y="241" width="46" height="144"/>
<rect x="870" y="241" width="44" height="144"/>
<path d="M165 237 V118 H190 V130 H278 V183 H378 V237 Z"/>
<path d="M655 237 V183 H755 V130 H842 V118 H870 V237 Z"/>
<rect x="280" y="90" width="475" height="93" fill="#8e8e8e" stroke="#7a7a7a" stroke-width="3"/>
<rect x="165" y="237" width="705" height="233"/>
<path d="M165 368 H870 M165 400 H870" fill="none" stroke-width="7"/>
<path d="M487 233 V248 L495 256 H533 L541 248 V233 Z" fill="#fff" stroke="none"/><path d="M487 237 V248 L495 256 H533 L541 248 V237" fill="none" stroke-width="6"/>
<circle cx="444" cy="262" r="9" stroke-width="6"/><circle cx="589" cy="262" r="9" stroke-width="6"/>
<rect x="651" y="258" width="182" height="39" rx="19.5" stroke-width="7"/>
<rect x="392" y="315" width="250" height="80" rx="40" stroke-width="8"/>
<path d="M397 346 H501 V320 M527 320 V346 H637 M514 320 V338" fill="none" stroke-width="6"/>
<rect x="491" y="452" width="56" height="16" fill="#262321" stroke="none"/>
</g></svg>
<svg id="tb3" style="left:830px;top:1285px;" width="150" height="85" viewBox="0 0 1029 583">
<g fill="#dededd" stroke="#262321" stroke-width="8" stroke-linejoin="miter">
<rect x="116" y="268" width="20" height="74" rx="8" fill="#262321" stroke="none"/>
<rect x="925" y="268" width="20" height="74" rx="8" fill="#262321" stroke="none"/>
<rect x="132" y="241" width="46" height="144"/>
<rect x="883" y="241" width="44" height="144"/>
<path d="M178 237 V118 H205 V130 H290 V183 H390 V237 Z"/>
<path d="M665 237 V183 H768 V130 H855 V118 H883 V237 Z"/>
<rect x="205" y="90" width="653" height="38" fill="#8e8e8e" stroke="#7a7a7a" stroke-width="3"/>
<rect x="178" y="237" width="705" height="233"/>
<path d="M178 368 H883 M178 400 H883" fill="none" stroke-width="7"/>
<path d="M500 233 V248 L508 256 H546 L554 248 V233 Z" fill="#fff" stroke="none"/><path d="M500 237 V248 L508 256 H546 L554 248 V237" fill="none" stroke-width="6"/>
<circle cx="457" cy="262" r="9" stroke-width="6"/><circle cx="602" cy="262" r="9" stroke-width="6"/>
<rect x="664" y="258" width="182" height="39" rx="19.5" stroke-width="7"/>
<rect x="405" y="315" width="250" height="80" rx="40" stroke-width="8"/>
<path d="M410 346 H514 V320 M540 320 V346 H650 M527 320 V338" fill="none" stroke-width="6"/>
<rect x="504" y="452" width="56" height="16" fill="#262321" stroke="none"/>
</g></svg>
<div class="abs" style="left:-6px;top:1415.5px;width:29px;height:20px;background:#d9281f;border-radius:2px;filter:blur(1.3px);box-shadow:0 0 4px 1px rgba(217,40,31,0.4);"></div>
<div class="abs" style="left:-4px;top:1421.5px;width:23px;height:12px;background:#e58d88;filter:blur(1.2px);"></div>

</body>
</html>
